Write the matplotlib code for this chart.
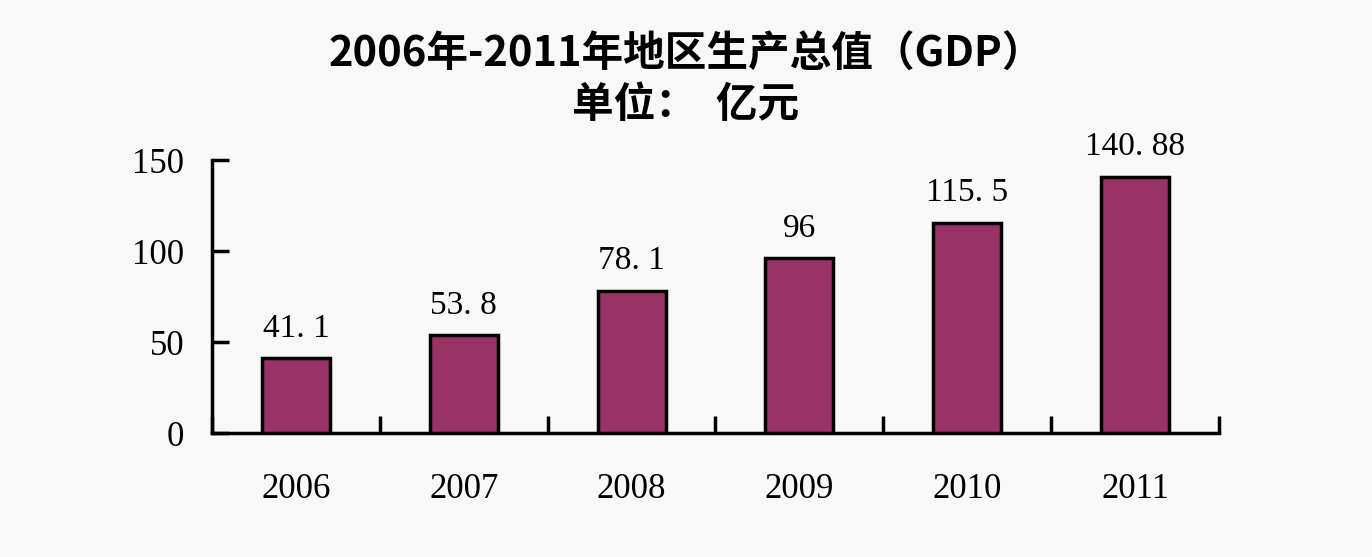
import matplotlib.pyplot as plt
import numpy as np

years = ["2006", "2007", "2008", "2009", "2010", "2011"]
gdp = [41.1, 53.8, 78.1, 96, 115.5, 140.88]
value_labels = ["41. 1", "53. 8", "78. 1", "96", "115. 5", "140. 88"]
y_ticks = [0, 50, 100, 150]

BG = "#f8f8f8"
BAR = "#993366"
SERIF = ["Liberation Serif", "DejaVu Serif"]
CJK = ["Noto Sans CJK SC", "DejaVu Sans"]

fig = plt.figure(figsize=(13.72, 5.57), dpi=100, facecolor=BG)
ax = fig.add_axes([0.1545, 0.2226, 0.734, 0.4901], facecolor=BG)

x = np.arange(len(years))
ax.bar(x, gdp, width=0.405, color=BAR, edgecolor="black", linewidth=2.5, zorder=3)

for xi, v, lab in zip(x, gdp, value_labels):
    ax.text(xi, v + 8, lab, ha="center", va="bottom", fontsize=24,
            family=SERIF, color="black")

ax.set_xlim(-0.5, len(years) - 0.5)
ax.set_ylim(0, 150)

ax.set_yticks(y_ticks)
ax.set_yticklabels([str(t) for t in y_ticks], family=SERIF, fontsize=25)
ax.tick_params(axis="y", direction="in", length=12, width=2.5, pad=20)

# category ticks sit at the boundaries between bars
ax.set_xticks(np.arange(len(years) + 1) - 0.5)
ax.set_xticklabels([])
ax.tick_params(axis="x", direction="in", length=12, width=2.5)
ax.set_xticks(x, minor=True)
ax.set_xticklabels(years, minor=True, family=SERIF, fontsize=25)
ax.tick_params(axis="x", which="minor", length=0, pad=29)

for side in ["top", "right"]:
    ax.spines[side].set_visible(False)
for side in ["left", "bottom"]:
    ax.spines[side].set_linewidth(2.5)

fig.text(0.5, 0.902, "2006年-2011年地区生产总值（GDP）", ha="center", va="center",
         fontsize=30, fontweight="bold", family=CJK)
fig.text(0.5, 0.812, "单位：  亿元", ha="center", va="center",
         fontsize=30, fontweight="bold", family=CJK)

fig.savefig("out.png", dpi=100, facecolor=BG)
